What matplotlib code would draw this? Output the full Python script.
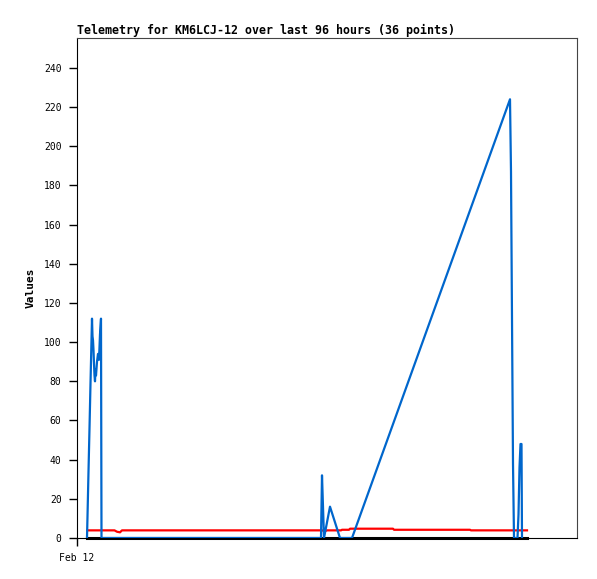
import matplotlib
matplotlib.use('Agg')
import matplotlib.pyplot as plt

# hours since Feb 12 00:00 (axis spans 100 h)
blue_t = [2.0, 2.1, 2.3, 2.5, 2.7, 2.9, 3.0, 3.1, 3.2, 3.3, 3.4, 3.5, 3.6, 3.7, 3.8,
          4.0, 4.2, 4.4, 4.6, 4.8, 4.9,
          48.8, 49.0, 49.2, 49.4, 50.6, 52.6, 55.0,
          86.6, 86.8, 87.0, 87.2, 87.4, 88.1, 88.3, 88.5, 88.7, 88.9, 89.0]
blue_v = [0, 11, 34, 56, 79, 101, 112, 103, 101, 96, 89, 83, 80, 86, 83,
          90, 94, 91, 104, 112, 0,
          0, 32, 16, 0, 16, 0, 0,
          224, 187, 112, 38, 0, 0, 12, 36, 48, 48, 0]

red_t = [2.1, 7.5, 8.0, 8.6, 9.0, 49.0, 49.6, 50.0, 52.8, 53.0, 54.4, 54.6,
         63.2, 63.4, 78.6, 78.8, 90.0]
red_v = [3.9, 3.9, 3.2, 2.9, 3.9, 3.9, 3.5, 3.9, 3.9, 4.2, 4.2, 4.75,
         4.75, 4.2, 4.2, 3.9, 3.9]

black_t = [2.0, 90.0]
black_v = [0, 0]

yticks = list(range(0, 241, 20))

plt.rcParams['font.family'] = 'DejaVu Sans Mono'

fig = plt.figure(figsize=(5.97, 5.79), dpi=100)
ax = fig.add_axes([77 / 597, 1 - 538 / 579, 500 / 597, 500 / 579])

ax.plot(black_t, black_v, color='black', lw=2.2, zorder=2, clip_on=False)
ax.plot(red_t, red_v, color='#ff0000', lw=1.6, zorder=3)
ax.plot(blue_t, blue_v, color='#0066cc', lw=1.6, zorder=4)

ax.set_xlim(0, 100)
ax.set_ylim(0, 255.3)
ax.set_yticks(yticks)
ax.set_yticklabels([str(v) for v in yticks], fontsize=7)
ax.set_xticks([0])
ax.set_xticklabels(['Feb 12'], fontsize=7)
ax.tick_params(axis='both', length=5.6, width=1, color='black', pad=5.5)

for s in ['top', 'right']:
    ax.spines[s].set_color('#444444')
for s in ['left', 'bottom']:
    ax.spines[s].set_color('black')

ax.set_ylabel('Values', fontsize=8, fontweight='bold', labelpad=6)
ax.set_title('Telemetry for KM6LCJ-12 over last 96 hours (36 points)',
             loc='left', fontsize=8.35, fontweight='bold', pad=3)

fig.savefig('out.png', dpi=100)
